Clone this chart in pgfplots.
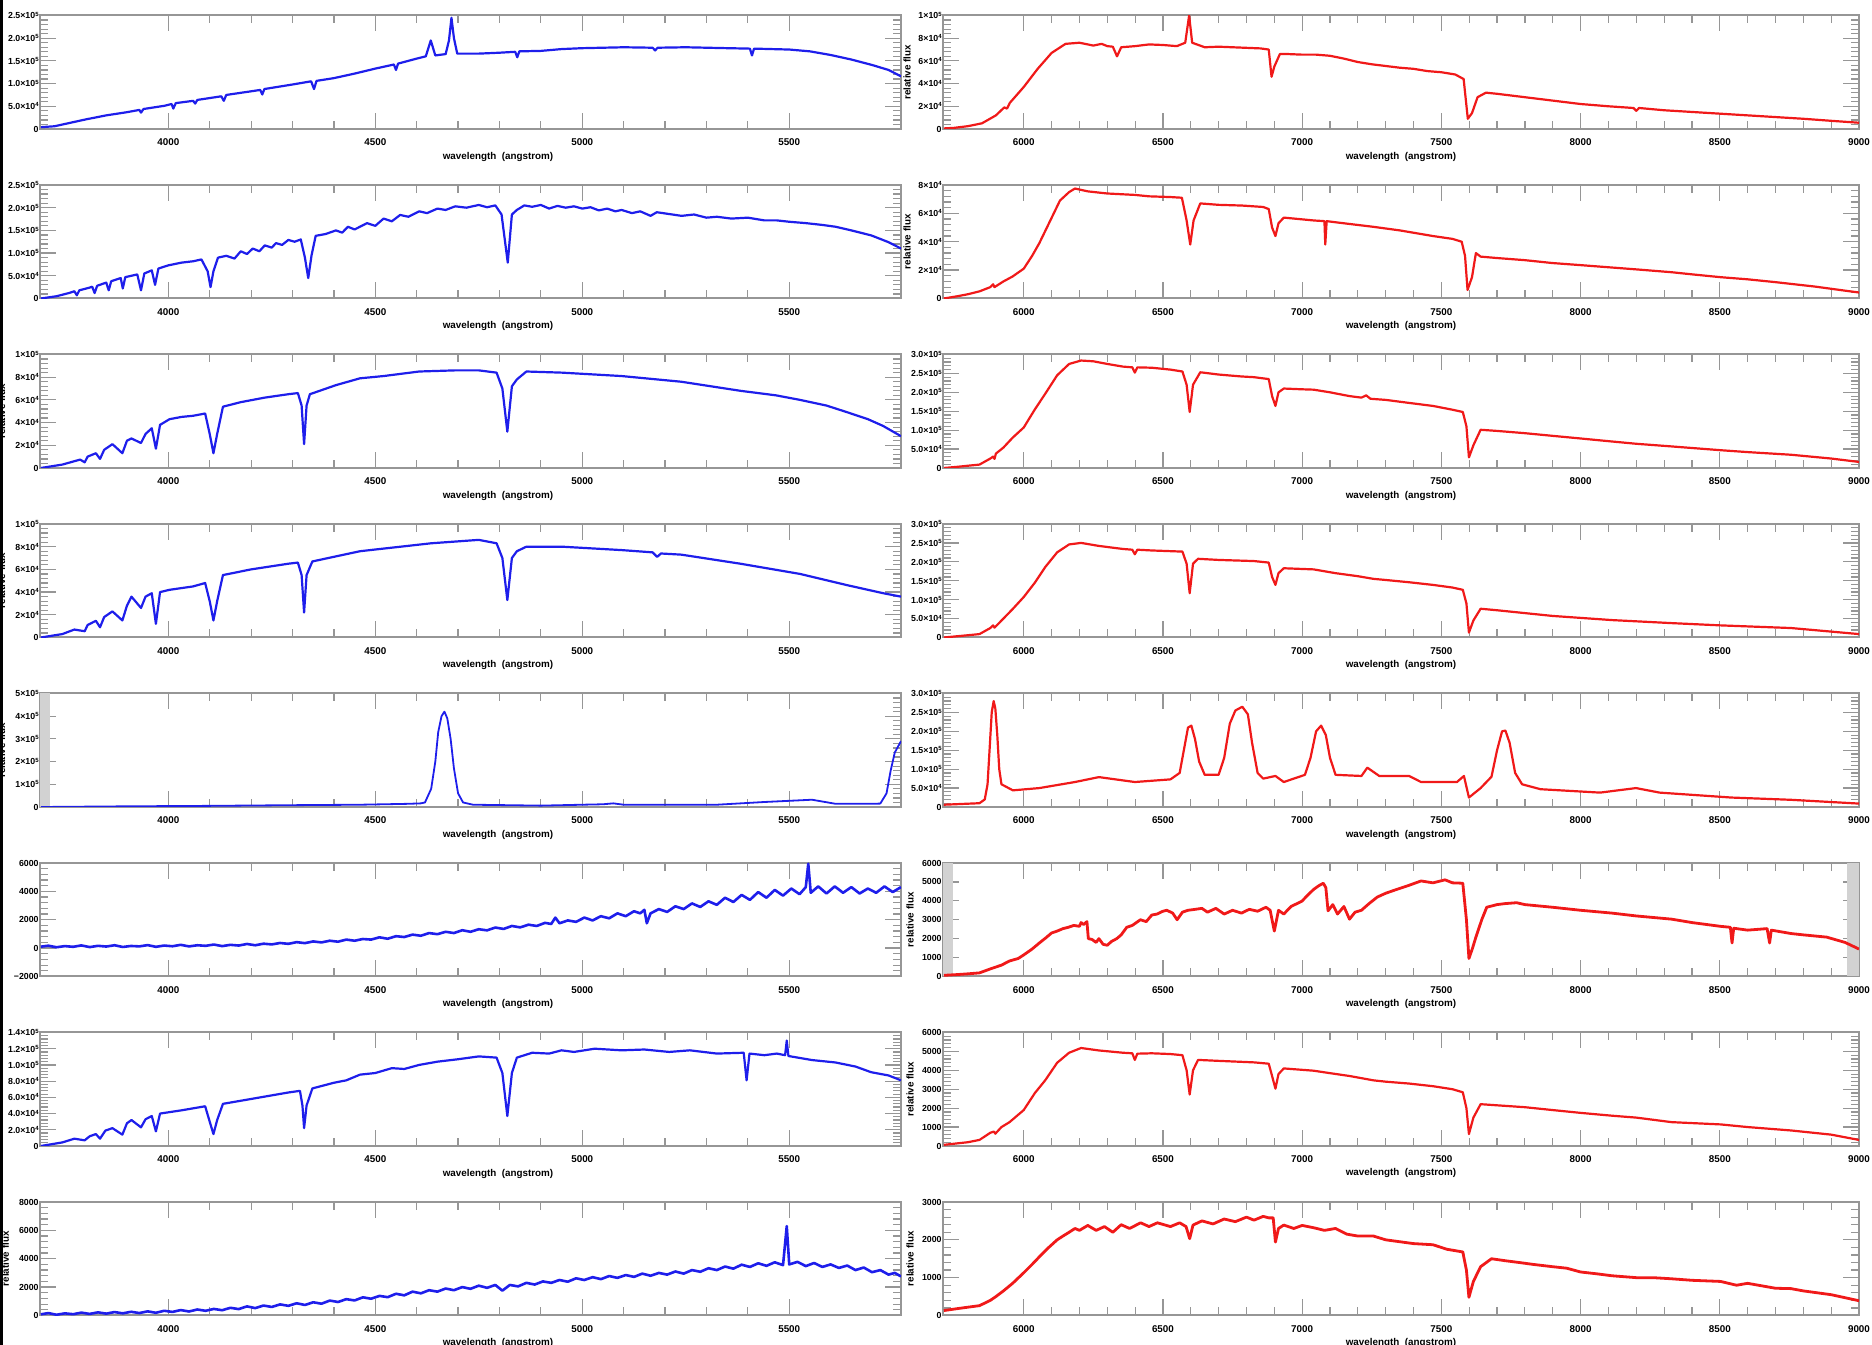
\documentclass[border=0pt]{standalone}
\usepackage{fontspec}
\setmainfont{Liberation Sans}
\usepackage{pgfplots}
\pgfplotsset{compat=1.18}
\definecolor{specB}{RGB}{30,30,235}
\definecolor{specR}{RGB}{240,25,25}
\definecolor{frameC}{RGB}{150,150,150}
\newcommand{\ex}[2]{#1×10\raisebox{0.6ex}{\fontsize{1.7}{2}\selectfont #2}}

\pgfplotsset{
  spec/.style={
    scale only axis, height=11.35mm,
    axis line style={draw=frameC, line width=0.2mm},
    tick style={frameC, line width=0.12mm},
    major tick length=1.6mm, minor tick length=0.8mm,
    tick align=inside, minor y tick num=4,
    scaled ticks=false,
    ticklabel style={font=\fontsize{2.8}{3.2}\selectfont\bfseries, text=black},
    yticklabel style={font=\fontsize{2.5}{3}\selectfont\bfseries, inner sep=0.2pt},
    label style={font=\fontsize{2.8}{3.2}\selectfont\bfseries},
    xticklabel style={yshift=0.27mm},
    xlabel={wavelength\ \ (angstrom)},
    ymin=0, clip=true,
    every axis plot/.append style={line width=0.22mm, line join=round, mark=none},
  },
  ylx/.style={ylabel={relative flux},
    ylabel style={at={(axis description cs:#1,0.5)}, anchor=center}},
  lft/.style={spec, width=86.1mm, xmin=3690, xmax=5770,
    xtick={4000,4500,5000,5500}, xticklabels={4000,4500,5000,5500}, minor x tick num=4,
    xlabel style={at={(axis description cs:0.532,0)}, anchor=center, yshift=-2.75mm}},
  rgt/.style={spec, width=91.6mm, xmin=5710, xmax=9000,
    xtick={6000,6500,7000,7500,8000,8500,9000},
    xticklabels={6000,6500,7000,7500,8000,8500,9000}, minor x tick num=4,
    xlabel style={at={(axis description cs:0.5,0)}, anchor=center, yshift=-2.75mm}},
  tkA/.style={ymax=2.5, ytick={0,0.5,1,1.5,2,2.5},
    yticklabels={0,\ex{5.0}{4},\ex{1.0}{5},\ex{1.5}{5},\ex{2.0}{5},\ex{2.5}{5}}},
  tkB/.style={ymax=10, ytick={0,2,4,6,8,10},
    yticklabels={0,\ex{2}{4},\ex{4}{4},\ex{6}{4},\ex{8}{4},\ex{1}{5}}},
  tkC/.style={ymax=8, ytick={0,2,4,6,8},
    yticklabels={0,\ex{2}{4},\ex{4}{4},\ex{6}{4},\ex{8}{4}}},
  tkD/.style={ymax=3, ytick={0,0.5,1,1.5,2,2.5,3},
    yticklabels={0,\ex{5.0}{4},\ex{1.0}{5},\ex{1.5}{5},\ex{2.0}{5},\ex{2.5}{5},\ex{3.0}{5}}},
  tkE/.style={ymax=5, ytick={0,1,2,3,4,5},
    yticklabels={0,\ex{1}{5},\ex{2}{5},\ex{3}{5},\ex{4}{5},\ex{5}{5}}},
  tkF/.style={ymin=-2000, ymax=6000, ytick={-2000,0,2000,4000,6000},
    yticklabels={−2000,0,2000,4000,6000}},
  tkG/.style={ymax=6000, ytick={0,1000,2000,3000,4000,5000,6000},
    yticklabels={0,1000,2000,3000,4000,5000,6000}},
  tkH/.style={ymax=14, ytick={0,2,4,6,8,10,12,14},
    yticklabels={0,\ex{2.0}{4},\ex{4.0}{4},\ex{6.0}{4},\ex{8.0}{4},\ex{1.0}{5},\ex{1.2}{5},\ex{1.4}{5}}},
  tkI/.style={ymax=8000, ytick={0,2000,4000,6000,8000},
    yticklabels={0,2000,4000,6000,8000}},
  tkJ/.style={ymax=3000, ytick={0,1000,2000,3000},
    yticklabels={0,1000,2000,3000}},
}

\begin{document}
\begin{tikzpicture}
\path[use as bounding box] (0,0) rectangle (187.2mm,134.5mm);
\draw[black, line width=0.3mm] (0.15mm,0) -- (0.15mm,134.5mm);

% ---------------- row 1
\begin{axis}[lft, tkA, at={(4mm,132.95mm)}, anchor=north west]
\addplot[specB] coordinates {(3692,0.04)(3725,0.06)(3760,0.13)(3800,0.21)(3850,0.30)(3900,0.37)(3930,0.42)(3934,0.36)(3940,0.44)(3990,0.51)(4008,0.55)(4012,0.45)(4018,0.57)(4060,0.62)(4065,0.56)(4070,0.64)(4128,0.72)(4134,0.62)(4140,0.75)(4200,0.83)(4222,0.86)(4227,0.76)(4232,0.88)(4300,0.98)(4345,1.05)(4352,0.88)(4358,1.06)(4400,1.12)(4450,1.22)(4500,1.33)(4545,1.42)(4550,1.30)(4555,1.44)(4600,1.55)(4622,1.60)(4634,1.95)(4645,1.62)(4670,1.65)(4678,1.95)(4684,2.45)(4690,2.0)(4698,1.66)(4750,1.66)(4800,1.68)(4838,1.70)(4843,1.58)(4848,1.71)(4900,1.72)(4950,1.76)(5000,1.78)(5050,1.79)(5100,1.80)(5170,1.79)(5176,1.73)(5182,1.79)(5250,1.80)(5300,1.79)(5350,1.78)(5405,1.77)(5410,1.62)(5415,1.77)(5500,1.75)(5550,1.71)(5600,1.63)(5650,1.53)(5700,1.41)(5740,1.30)(5770,1.16)};
\end{axis}
\begin{axis}[rgt, tkB, ylx=-0.0393, at={(94.3mm,132.95mm)}, anchor=north west]
\addplot[specR] coordinates {(5713,0.05)(5750,0.1)(5800,0.25)(5850,0.5)(5900,1.2)(5930,1.9)(5940,1.8)(5950,2.3)(6000,3.7)(6050,5.3)(6100,6.7)(6150,7.5)(6200,7.6)(6250,7.35)(6280,7.5)(6300,7.3)(6320,7.25)(6335,6.4)(6350,7.2)(6400,7.3)(6450,7.45)(6500,7.4)(6550,7.3)(6580,7.6)(6594,10.0)(6605,7.6)(6650,7.2)(6700,7.25)(6750,7.2)(6800,7.15)(6850,7.1)(6880,7.0)(6890,4.6)(6900,5.5)(6920,6.6)(6950,6.6)(7000,6.55)(7050,6.55)(7100,6.45)(7150,6.2)(7200,5.9)(7250,5.7)(7300,5.55)(7350,5.4)(7400,5.3)(7450,5.1)(7500,5.0)(7550,4.8)(7580,4.4)(7595,0.9)(7610,1.4)(7630,2.8)(7660,3.2)(7700,3.1)(7800,2.8)(7900,2.5)(8000,2.2)(8100,2.0)(8190,1.85)(8200,1.6)(8210,1.85)(8300,1.65)(8400,1.5)(8500,1.35)(8600,1.2)(8700,1.05)(8800,0.9)(8900,0.72)(9000,0.55)};
\end{axis}

% ---------------- row 2
\begin{axis}[lft, tkA, at={(4mm,116.0mm)}, anchor=north west]
\addplot[specB] coordinates {(3692,0.0)(3730,0.05)(3760,0.12)(3773,0.16)(3779,0.07)(3785,0.18)(3810,0.24)(3816,0.26)(3822,0.12)(3828,0.28)(3850,0.35)(3856,0.18)(3862,0.38)(3885,0.45)(3890,0.22)(3896,0.47)(3925,0.53)(3934,0.18)(3942,0.55)(3960,0.62)(3968,0.30)(3976,0.66)(4000,0.73)(4032,0.79)(4060,0.82)(4080,0.86)(4095,0.60)(4102,0.25)(4109,0.60)(4120,0.90)(4140,0.94)(4160,0.88)(4175,1.04)(4190,0.98)(4204,1.10)(4220,1.04)(4233,1.17)(4250,1.12)(4260,1.22)(4275,1.18)(4290,1.29)(4305,1.25)(4320,1.30)(4330,0.90)(4338,0.45)(4346,0.95)(4356,1.38)(4380,1.42)(4405,1.50)(4420,1.45)(4434,1.58)(4450,1.52)(4480,1.66)(4500,1.60)(4520,1.76)(4540,1.70)(4560,1.84)(4580,1.80)(4606,1.92)(4625,1.88)(4650,1.98)(4670,1.95)(4693,2.03)(4720,2.00)(4750,2.06)(4770,2.01)(4790,2.05)(4805,1.85)(4820,0.79)(4830,1.85)(4842,1.95)(4860,2.05)(4879,2.02)(4900,2.06)(4920,1.98)(4940,2.04)(4960,2.00)(4980,2.03)(5000,1.98)(5020,2.01)(5040,1.94)(5060,1.98)(5080,1.92)(5095,1.95)(5120,1.88)(5140,1.92)(5165,1.82)(5180,1.90)(5210,1.86)(5240,1.82)(5270,1.85)(5300,1.78)(5325,1.80)(5360,1.76)(5400,1.78)(5440,1.72)(5470,1.72)(5500,1.69)(5540,1.66)(5580,1.62)(5612,1.58)(5650,1.50)(5698,1.39)(5740,1.24)(5770,1.10)};
\end{axis}
\begin{axis}[rgt, tkC, ylx=-0.0393, at={(94.3mm,116.0mm)}, anchor=north west]
\addplot[specR] coordinates {(5713,0.0)(5760,0.15)(5800,0.3)(5841,0.5)(5880,0.8)(5890,1.0)(5895,0.8)(5927,1.2)(5960,1.55)(6000,2.1)(6030,3.0)(6056,3.9)(6098,5.6)(6130,6.9)(6163,7.5)(6184,7.75)(6230,7.55)(6300,7.4)(6399,7.3)(6450,7.2)(6527,7.15)(6568,7.1)(6585,5.5)(6598,3.8)(6610,5.5)(6634,6.7)(6700,6.6)(6784,6.55)(6860,6.45)(6880,6.3)(6892,5.0)(6904,4.4)(6915,5.3)(6934,5.7)(7041,5.5)(7080,5.45)(7083,3.8)(7088,5.45)(7150,5.3)(7256,5.05)(7350,4.8)(7470,4.4)(7540,4.2)(7573,4.0)(7585,3.0)(7594,0.6)(7610,1.5)(7624,3.2)(7641,2.95)(7700,2.85)(7800,2.7)(7897,2.5)(8000,2.35)(8100,2.2)(8200,2.05)(8327,1.85)(8400,1.7)(8503,1.5)(8600,1.35)(8700,1.15)(8841,0.84)(8950,0.55)(9000,0.42)};
\end{axis}

% ---------------- row 3
\begin{axis}[lft, tkB, ylx=-0.0447, at={(4mm,99.05mm)}, anchor=north west]
\addplot[specB] coordinates {(3692,0.0)(3744,0.3)(3787,0.74)(3798,0.5)(3805,1.0)(3825,1.3)(3835,0.8)(3845,1.6)(3865,2.1)(3889,1.3)(3900,2.4)(3911,2.6)(3934,2.2)(3945,3.0)(3960,3.5)(3970,1.7)(3980,3.8)(4003,4.3)(4032,4.5)(4060,4.6)(4089,4.8)(4100,3.0)(4109,1.3)(4118,3.0)(4132,5.4)(4175,5.8)(4233,6.2)(4290,6.5)(4313,6.6)(4322,5.5)(4328,2.1)(4334,5.5)(4342,6.5)(4405,7.3)(4463,7.9)(4520,8.1)(4606,8.5)(4693,8.6)(4750,8.6)(4793,8.4)(4807,7.0)(4819,3.2)(4830,7.2)(4842,7.8)(4865,8.5)(4951,8.4)(5095,8.1)(5239,7.6)(5382,6.8)(5468,6.4)(5526,6.0)(5590,5.5)(5641,4.9)(5690,4.3)(5727,3.7)(5770,2.8)};
\end{axis}
\begin{axis}[rgt, tkD, at={(94.3mm,99.05mm)}, anchor=north west]
\addplot[specR] coordinates {(5713,0.0)(5760,0.03)(5800,0.06)(5841,0.09)(5880,0.25)(5890,0.30)(5895,0.24)(5900,0.38)(5927,0.54)(5960,0.80)(6000,1.07)(6040,1.55)(6077,1.96)(6120,2.45)(6163,2.75)(6206,2.84)(6250,2.82)(6300,2.75)(6356,2.68)(6390,2.66)(6399,2.52)(6408,2.66)(6460,2.65)(6527,2.60)(6570,2.55)(6585,2.20)(6596,1.48)(6608,2.20)(6634,2.53)(6700,2.47)(6780,2.42)(6827,2.40)(6880,2.35)(6892,1.90)(6904,1.64)(6915,2.00)(6934,2.10)(6999,2.08)(7041,2.07)(7100,2.00)(7170,1.90)(7213,1.86)(7230,1.92)(7245,1.83)(7300,1.80)(7384,1.72)(7470,1.64)(7540,1.54)(7577,1.48)(7590,1.10)(7599,0.28)(7615,0.60)(7641,1.01)(7700,0.98)(7800,0.92)(7899,0.85)(8000,0.78)(8113,0.70)(8200,0.64)(8327,0.57)(8503,0.47)(8600,0.42)(8756,0.35)(8900,0.25)(9000,0.16)};
\end{axis}

% ---------------- row 4
\begin{axis}[lft, tkB, ylx=-0.0447, at={(4mm,82.1mm)}, anchor=north west]
\addplot[specB] coordinates {(3692,0.0)(3744,0.3)(3773,0.7)(3798,0.55)(3805,1.1)(3825,1.47)(3835,0.9)(3845,1.8)(3865,2.3)(3889,1.5)(3900,2.8)(3911,3.6)(3934,2.6)(3945,3.6)(3960,3.9)(3970,1.2)(3980,4.0)(4003,4.2)(4060,4.5)(4089,4.8)(4100,3.2)(4109,1.5)(4118,3.2)(4132,5.5)(4200,6.0)(4290,6.5)(4313,6.6)(4322,5.5)(4328,2.2)(4334,5.5)(4348,6.7)(4463,7.6)(4635,8.3)(4750,8.6)(4793,8.3)(4807,7.0)(4819,3.3)(4830,7.0)(4842,7.6)(4865,8.0)(4951,8.0)(5095,7.7)(5170,7.5)(5181,7.1)(5190,7.4)(5239,7.3)(5382,6.5)(5526,5.6)(5641,4.6)(5727,3.9)(5770,3.6)};
\end{axis}
\begin{axis}[rgt, tkD, at={(94.3mm,82.1mm)}, anchor=north west]
\addplot[specR] coordinates {(5713,0.0)(5800,0.06)(5841,0.09)(5880,0.25)(5890,0.32)(5895,0.26)(5927,0.50)(5960,0.75)(6000,1.07)(6040,1.45)(6077,1.86)(6120,2.25)(6163,2.46)(6206,2.50)(6270,2.42)(6356,2.34)(6390,2.32)(6399,2.20)(6408,2.32)(6460,2.30)(6570,2.27)(6585,1.95)(6596,1.17)(6608,1.95)(6626,2.08)(6700,2.05)(6827,2.02)(6880,1.98)(6892,1.60)(6904,1.39)(6915,1.70)(6934,1.83)(7041,1.80)(7120,1.70)(7200,1.62)(7256,1.55)(7300,1.52)(7384,1.46)(7470,1.39)(7540,1.32)(7577,1.26)(7590,0.90)(7599,0.13)(7615,0.45)(7641,0.76)(7700,0.72)(7899,0.57)(8113,0.46)(8327,0.38)(8503,0.32)(8756,0.25)(9000,0.09)};
\end{axis}

% ---------------- row 5
\begin{axis}[lft, tkE, ylx=-0.0447, at={(4mm,65.15mm)}, anchor=north west]
\fill[gray!35] (rel axis cs:0,0) rectangle (rel axis cs:0.012,1);
\addplot[specB, line width=0.18mm] coordinates {(3692,0.0)(3900,0.03)(4100,0.05)(4300,0.08)(4463,0.1)(4580,0.14)(4610,0.16)(4620,0.2)(4635,0.8)(4645,2.0)(4652,3.3)(4660,4.0)(4667,4.2)(4674,3.9)(4682,3.0)(4690,1.7)(4700,0.6)(4712,0.2)(4736,0.1)(4900,0.06)(5050,0.12)(5075,0.16)(5100,0.10)(5325,0.10)(5440,0.22)(5555,0.32)(5612,0.14)(5698,0.14)(5720,0.15)(5735,0.6)(5745,1.6)(5755,2.4)(5770,2.9)};
\end{axis}
\begin{axis}[rgt, tkD, at={(94.3mm,65.15mm)}, anchor=north west]
\addplot[specR] coordinates {(5713,0.06)(5841,0.10)(5860,0.2)(5870,0.6)(5878,1.6)(5885,2.5)(5892,2.8)(5898,2.6)(5905,1.9)(5912,1.0)(5920,0.6)(5961,0.44)(6056,0.50)(6184,0.66)(6270,0.79)(6399,0.66)(6527,0.73)(6560,0.9)(6575,1.5)(6590,2.1)(6602,2.15)(6615,1.8)(6630,1.2)(6650,0.85)(6700,0.85)(6720,1.3)(6740,2.2)(6760,2.55)(6785,2.65)(6805,2.45)(6820,1.7)(6840,0.9)(6860,0.75)(6904,0.82)(6934,0.66)(7010,0.85)(7030,1.3)(7050,2.0)(7068,2.15)(7085,1.9)(7100,1.3)(7120,0.85)(7213,0.82)(7234,1.04)(7277,0.82)(7384,0.82)(7427,0.66)(7556,0.66)(7581,0.82)(7599,0.25)(7641,0.50)(7680,0.8)(7700,1.5)(7718,2.0)(7730,2.02)(7745,1.7)(7765,0.9)(7790,0.6)(7856,0.47)(8070,0.38)(8199,0.50)(8284,0.38)(8541,0.25)(8756,0.19)(9000,0.09)};
\end{axis}

% ---------------- row 6
\begin{axis}[lft, tkF, ylx=-0.0476, at={(4mm,48.2mm)}, anchor=north west]
\addplot[specB, line width=0.26mm] coordinates {(3692,100)(3710,170)(3730,60)(3750,140)(3770,90)(3790,190)(3810,70)(3830,160)(3850,110)(3870,200)(3890,80)(3910,150)(3930,120)(3950,210)(3970,90)(3990,180)(4010,130)(4030,230)(4050,120)(4070,200)(4090,160)(4110,250)(4130,140)(4150,230)(4170,180)(4190,290)(4210,200)(4230,310)(4250,260)(4270,360)(4290,300)(4310,420)(4330,350)(4350,470)(4370,400)(4390,520)(4410,450)(4430,600)(4450,520)(4470,640)(4490,600)(4510,760)(4530,660)(4550,840)(4570,780)(4590,950)(4610,870)(4630,1060)(4650,980)(4670,1150)(4690,1060)(4710,1260)(4730,1150)(4750,1330)(4770,1250)(4790,1450)(4810,1350)(4830,1560)(4850,1460)(4870,1650)(4890,1560)(4910,1780)(4925,1700)(4935,2150)(4945,1750)(4965,1950)(4985,1850)(5005,2150)(5025,1950)(5045,2250)(5065,2100)(5085,2450)(5105,2250)(5125,2600)(5140,2450)(5150,2700)(5156,1750)(5165,2450)(5185,2750)(5205,2550)(5225,2950)(5245,2750)(5265,3150)(5285,2900)(5305,3300)(5325,3050)(5345,3550)(5365,3250)(5385,3750)(5405,3400)(5425,3950)(5445,3550)(5465,4100)(5485,3700)(5505,4200)(5525,3800)(5540,4300)(5546,5950)(5552,3900)(5570,4350)(5590,3850)(5610,4350)(5630,3900)(5650,4300)(5670,3850)(5690,4200)(5710,3900)(5730,4350)(5750,3950)(5770,4300)};
\end{axis}
\begin{axis}[rgt, tkG, ylx=-0.036, at={(94.3mm,48.2mm)}, anchor=north west]
\fill[gray!35] (rel axis cs:0,0) rectangle (rel axis cs:0.011,1);
\fill[gray!35] (rel axis cs:0.987,0) rectangle (rel axis cs:1,1);
\addplot[specR, line width=0.28mm] coordinates {(5713,60)(5760,100)(5800,140)(5841,190)(5880,400)(5920,600)(5949,820)(5980,950)(6000,1140)(6030,1450)(6056,1770)(6080,2050)(6100,2300)(6120,2400)(6141,2530)(6160,2600)(6180,2700)(6200,2650)(6206,2850)(6215,2750)(6227,2900)(6232,2000)(6245,1960)(6260,1800)(6270,2000)(6285,1700)(6300,1650)(6315,1850)(6334,2000)(6350,2200)(6370,2600)(6390,2700)(6419,3000)(6440,2900)(6460,3250)(6479,3300)(6500,3450)(6514,3500)(6535,3350)(6551,3000)(6570,3400)(6590,3500)(6611,3540)(6640,3600)(6660,3400)(6690,3600)(6720,3300)(6750,3500)(6782,3350)(6810,3550)(6840,3450)(6870,3660)(6885,3500)(6900,2400)(6915,3500)(6934,3300)(6960,3700)(6999,3980)(7020,4300)(7041,4600)(7060,4800)(7076,4930)(7085,4700)(7093,3470)(7110,3800)(7127,3300)(7150,3700)(7170,3030)(7190,3400)(7213,3500)(7240,3850)(7270,4200)(7300,4400)(7341,4610)(7380,4800)(7427,5050)(7470,4950)(7513,5110)(7540,4950)(7577,4930)(7590,3000)(7599,950)(7612,1500)(7624,2080)(7645,3000)(7663,3660)(7700,3800)(7727,3850)(7770,3900)(7800,3800)(7899,3660)(8000,3500)(8113,3350)(8200,3200)(8327,3030)(8400,2850)(8503,2650)(8538,2600)(8544,1770)(8550,2550)(8600,2450)(8670,2530)(8679,1770)(8685,2450)(8756,2270)(8800,2200)(8884,2080)(8950,1800)(9000,1450)};
\end{axis}

% ---------------- row 7
\begin{axis}[lft, tkH, at={(4mm,31.25mm)}, anchor=north west]
\addplot[specB] coordinates {(3692,0.0)(3744,0.44)(3773,0.9)(3798,0.7)(3810,1.2)(3825,1.47)(3835,0.9)(3848,1.9)(3865,2.2)(3889,1.4)(3900,2.8)(3911,3.2)(3934,2.3)(3945,3.3)(3960,3.7)(3970,1.8)(3980,4.0)(4032,4.4)(4089,4.9)(4100,3.0)(4109,1.47)(4118,3.2)(4132,5.2)(4200,5.8)(4290,6.6)(4318,6.8)(4324,5.0)(4328,2.2)(4334,5.0)(4348,7.1)(4400,7.8)(4430,8.1)(4463,8.8)(4500,9.0)(4540,9.6)(4570,9.5)(4606,10.0)(4650,10.4)(4700,10.7)(4750,11.05)(4793,10.9)(4807,9.0)(4819,3.7)(4830,9.0)(4842,10.9)(4879,11.5)(4920,11.4)(4950,11.8)(4980,11.6)(5030,12.0)(5095,11.8)(5150,11.9)(5210,11.6)(5260,11.8)(5325,11.4)(5390,11.5)(5397,8.1)(5404,11.4)(5440,11.2)(5470,11.4)(5490,11.2)(5494,13.0)(5498,11.1)(5555,10.6)(5612,10.3)(5660,9.8)(5698,9.1)(5740,8.7)(5770,8.1)};
\end{axis}
\begin{axis}[rgt, tkG, ylx=-0.036, at={(94.3mm,31.25mm)}, anchor=north west]
\addplot[specR] coordinates {(5713,60)(5800,200)(5841,320)(5880,700)(5893,760)(5898,650)(5920,1000)(5949,1260)(6000,1900)(6040,2800)(6077,3470)(6120,4400)(6163,4930)(6206,5180)(6270,5050)(6356,4930)(6390,4900)(6399,4550)(6408,4880)(6460,4900)(6527,4860)(6570,4800)(6585,4000)(6596,2720)(6608,4000)(6626,4550)(6700,4500)(6827,4420)(6880,4350)(6892,3700)(6904,3030)(6915,3800)(6934,4100)(7041,3980)(7100,3850)(7170,3700)(7256,3470)(7300,3400)(7384,3300)(7470,3160)(7540,3000)(7577,2840)(7590,2000)(7599,630)(7615,1500)(7641,2210)(7700,2150)(7800,2050)(7899,1900)(8000,1750)(8113,1600)(8200,1500)(8327,1260)(8503,1140)(8600,1000)(8756,820)(8900,600)(9000,320)};
\end{axis}

% ---------------- row 8
\begin{axis}[lft, tkI, ylx=-0.0401, at={(4mm,14.3mm)}, anchor=north west]
\addplot[specB, line width=0.26mm] coordinates {(3692,80)(3710,170)(3730,50)(3750,150)(3770,90)(3790,200)(3810,110)(3830,220)(3850,130)(3870,240)(3890,150)(3910,260)(3930,170)(3950,290)(3970,190)(3990,330)(4010,250)(4030,380)(4050,280)(4070,420)(4090,330)(4110,460)(4130,370)(4150,540)(4170,450)(4190,640)(4210,520)(4230,700)(4250,600)(4270,780)(4290,680)(4310,860)(4330,740)(4350,930)(4370,830)(4390,1050)(4410,950)(4430,1150)(4450,1060)(4470,1280)(4490,1180)(4510,1380)(4530,1290)(4550,1530)(4570,1420)(4590,1680)(4610,1560)(4630,1780)(4650,1680)(4670,1900)(4690,1780)(4710,2000)(4730,1880)(4750,2100)(4770,1950)(4790,2150)(4807,1750)(4825,2150)(4845,2050)(4865,2300)(4885,2180)(4905,2400)(4925,2300)(4945,2500)(4965,2380)(4985,2620)(5005,2500)(5025,2700)(5045,2560)(5065,2780)(5085,2650)(5105,2850)(5125,2720)(5145,2950)(5165,2800)(5185,3000)(5205,2880)(5225,3100)(5245,2950)(5265,3200)(5285,3080)(5305,3330)(5325,3200)(5345,3450)(5365,3300)(5385,3580)(5405,3420)(5425,3680)(5445,3500)(5465,3750)(5485,3550)(5494,6300)(5500,3600)(5520,3780)(5540,3480)(5560,3700)(5580,3420)(5600,3600)(5620,3350)(5640,3520)(5660,3200)(5680,3380)(5700,3050)(5720,3200)(5740,2880)(5755,3000)(5770,2750)};
\end{axis}
\begin{axis}[rgt, tkJ, ylx=-0.036, at={(94.3mm,14.3mm)}, anchor=north west]
\addplot[specR, line width=0.28mm] coordinates {(5713,130)(5760,180)(5800,220)(5841,260)(5880,400)(5900,500)(5927,650)(5960,850)(6000,1130)(6030,1350)(6056,1550)(6090,1800)(6120,2000)(6141,2100)(6163,2200)(6184,2300)(6200,2250)(6230,2380)(6260,2250)(6290,2350)(6320,2200)(6350,2400)(6380,2300)(6420,2450)(6450,2350)(6480,2450)(6527,2350)(6560,2450)(6583,2350)(6596,2030)(6608,2390)(6640,2500)(6680,2420)(6720,2550)(6760,2480)(6800,2600)(6827,2520)(6860,2620)(6880,2580)(6896,2580)(6904,1940)(6915,2300)(6934,2390)(6970,2300)(7000,2380)(7041,2320)(7080,2250)(7120,2300)(7160,2150)(7200,2100)(7256,2100)(7300,2000)(7350,1950)(7400,1900)(7470,1870)(7520,1750)(7577,1680)(7590,1200)(7599,480)(7615,900)(7641,1290)(7680,1500)(7727,1450)(7780,1400)(7830,1350)(7899,1290)(7950,1250)(8000,1150)(8060,1100)(8113,1050)(8200,1000)(8260,1000)(8327,970)(8400,930)(8503,900)(8560,800)(8600,850)(8700,720)(8756,710)(8800,650)(8900,550)(9000,390)};
\end{axis}
\end{tikzpicture}
\end{document}
